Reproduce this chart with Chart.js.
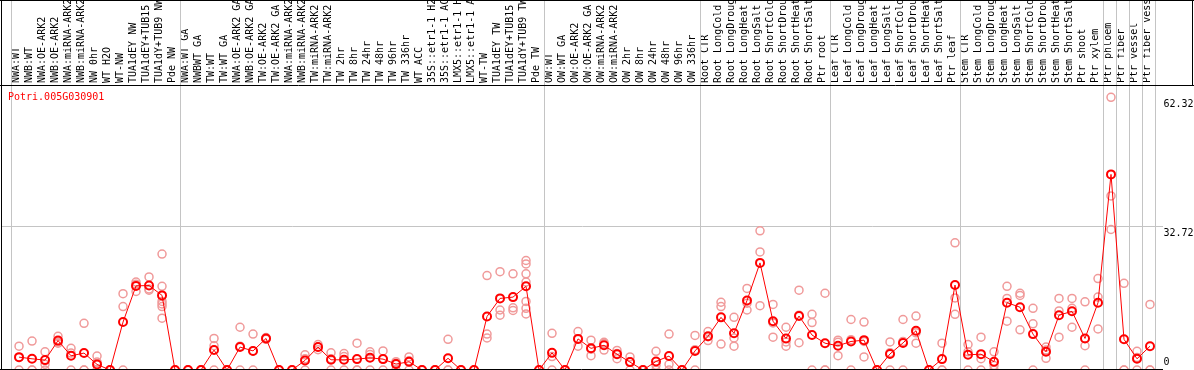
<!DOCTYPE html>
<html>
<head>
<meta charset="utf-8">
<script src="https://cdn.jsdelivr.net/npm/chart.js@4/dist/chart.umd.min.js"></script>
<style>
  html, body { margin: 0; padding: 0; background: #fff; }
  canvas { display: block; }
</style>
</head>
<body>
<canvas id="expr" width="1194" height="370"></canvas>
<script>
const geneId = 'Potri.005G030901';

const labels = [
  'NWA:WT', 'NWB:WT', 'NWA:OE-ARK2', 'NWB:OE-ARK2', 'NWA:miRNA-ARK2', 'NWB:miRNA-ARK2',
  'NW 0hr', 'WT H2O', 'WT-NW', 'TUA1dEY NW', 'TUA1dEY+TUB15 NW', 'TUA1dY+TUB9 NW', 'Pde NW',
  'NWA:WT GA', 'NWBWT GA', 'TW:WT', 'TW:WT GA', 'NWA:OE-ARK2 GA', 'NWB:OE-ARK2 GA',
  'TW:OE-ARK2', 'TW:OE-ARK2 GA', 'NWA:miRNA-ARK2', 'NWB:miRNA-ARK2', 'TW:miRNA-ARK2',
  'TW:miRNA-ARK2', 'TW 2hr', 'TW 8hr', 'TW 24hr', 'TW 48hr', 'TW 96hr', 'TW 336hr',
  'WT ACC', '35S::etr1-1 H2O', '35S::etr1-1 ACC', 'LMX5::etr1-1 H2O', 'LMX5::etr1-1 ACC',
  'WT-TW', 'TUA1dEY TW', 'TUA1dEY+TUB15 TW', 'TUA1dY+TUB9 TW', 'Pde TW',
  'OW:WT', 'OW:WT GA', 'OW:OE-ARK2', 'OW:OE-ARK2 GA', 'OW:miRNA-ARK2', 'OW:miRNA-ARK2',
  'OW 2hr', 'OW 8hr', 'OW 24hr', 'OW 48hr', 'OW 96hr', 'OW 336hr',
  'Root CTR', 'Root LongCold', 'Root LongDrought', 'Root LongHeat', 'Root LongSalt',
  'Root ShortCold', 'Root ShortDrought', 'Root ShortHeat', 'Root ShortSalt', 'Ptr root',
  'Leaf CTR', 'Leaf LongCold', 'Leaf LongDrought', 'Leaf LongHeat', 'Leaf LongSalt',
  'Leaf ShortCold', 'Leaf ShortDrought', 'Leaf ShortHeat', 'Leaf ShortSalt', 'Ptr leaf',
  'Stem CTR', 'Stem LongCold', 'Stem LongDrought', 'Stem LongHeat', 'Stem LongSalt',
  'Stem ShortCold', 'Stem ShortDrought', 'Stem ShortHeat', 'Stem ShortSalt', 'Ptr shoot',
  'Ptr xylem', 'Ptr phloem', 'Ptr fiber', 'Ptr vessel', 'Ptr fiber vessel',
];

// first sample index of each experiment block (last entry closes the final block)
const groupStarts = [0, 13, 41, 53, 63, 73, 84, 85, 86, 87, 88];

const means = [
  2.94, 2.56, 2.26, 6.72, 3.24, 3.87, 1.28, 0, 10.95, 19.22, 19.31, 17.05, 0,
  0, 0, 4.55, 0, 5.24, 4.36, 7.21, 0, 0, 2.19, 5.24, 2.33, 2.33, 2.49, 2.78, 2.49,
  1.35, 1.88, 0, 0, 2.68, 0, 0, 12.23, 16.36, 16.66, 19.12, 0,
  3.92, 0, 7.11, 4.95, 5.64, 3.62, 1.8, 0, 1.96, 3.18, 0, 4.36,
  7.7, 12.03, 8.39, 15.87, 24.48, 11.15, 7.21, 12.33, 8.0, 6.13,
  5.54, 6.52, 6.82, 0, 3.67, 6.19, 8.98, 0, 2.49, 19.41,
  3.47, 3.62, 1.9, 15.38, 14.35, 8.2, 4.16, 12.52, 13.41, 7.21, 15.38,
  44.7, 7.01, 2.56, 5.44,
];

const replicates = [
  [5.44, 2.88, 0], [6.62, 0, 0], [4.16, 1.31, 0], [7.7, 6.13, 6.42], [4.95, 3.87, 0],
  [10.66, 0, 0], [3.18, 1.8, 0], [0, 0, 0], [17.44, 14.49, 0], [20.1, 17.94, 19.61],
  [21.28, 18.23, 18.53], [26.5, 19.12, 15.67, 15.08, 14.49, 11.84], [0, 0, 0],
  [0, 0, 0], [0, 0, 0], [7.21, 5.54, 0], [0, 0, 0], [9.77, 5.44, 0], [8.2, 4.36, 0],
  [7.41, 7.21, 7.01], [0, 0, 0], [0, 0, 0], [3.47, 2.59, 0], [5.83, 5.24, 4.65],
  [3.92, 2.59, 0], [3.77, 3.08, 0], [6.13, 0, 0], [4.16, 3.57, 0], [4.36, 2.49, 0],
  [1.9, 1.6, 0], [2.98, 2.09, 0], [0, 0, 0], [0, 0, 0], [7.01, 0, 0], [0, 0, 0], [0, 0, 0],
  [21.58, 8.2, 7.31], [22.46, 13.71, 12.52], [21.97, 14.2, 13.61],
  [25.02, 24.23, 21.97, 20.1, 15.67, 14.1, 12.82], [0, 0, 0],
  [8.39, 3.08, 0], [0, 0, 0], [8.79, 7.11, 5.44], [6.82, 4.75, 3.28], [6.33, 6.03, 4.55],
  [4.46, 3.77, 2.59], [2.98, 1.9, 0], [0, 0, 0], [4.26, 1.11, 0], [8.2, 1.3, 0], [0, 0, 0],
  [7.9, 4.65, 0],
  [8.79, 7.6, 6.72], [15.48, 14.49, 5.93], [12.03, 7.31, 5.44], [18.63, 15.28, 13.71],
  [31.81, 26.99, 14.69], [14.98, 10.75, 7.51], [9.77, 6.42, 5.44], [18.23, 12.52, 6.23],
  [12.72, 10.85, 0], [17.54, 0, 0],
  [6.82, 6.33, 3.28], [11.54, 6.92, 0], [10.95, 6.52, 2.98], [0, 0, 0], [6.42, 3.96, 0],
  [11.54, 6.52, 0], [12.33, 8.49, 6.13], [0, 0, 0], [6.13, 0, 0], [29.06, 16.46, 12.72],
  [5.83, 4.16, 0], [7.51, 2.59, 0], [4.16, 1.01, 0], [19.12, 16.36, 11.15],
  [17.54, 17.05, 9.18], [14.1, 10.56, 0], [5.24, 4.55, 2.68], [16.36, 13.51, 7.51],
  [16.36, 14.1, 9.77], [15.57, 5.54, 0], [20.89, 16.66, 9.38],
  [62.32, 39.78, 32.11], [19.81, 0, 0], [4.26, 2.88, 0], [14.98, 0, 0],
];

const yTicks = [0, 32.72, 62.32];

const COLORS = {
  mean: '#ff0000',
  replicate: '#f09a9a',
  grid: '#c4c4c4',
  frame: '#000000',
};
const FONT = { family: '"DejaVu Sans Mono", "Liberation Mono", monospace', size: 10 };

const framePlugin = {
  id: 'frame',
  beforeDatasetsDraw(chart) {
    const { ctx, chartArea, scales } = chart;
    ctx.save();
    ctx.strokeStyle = COLORS.grid;
    ctx.lineWidth = 1;
    groupStarts.forEach((k) => {
      const px = Math.round(scales.x.getPixelForValue(k - 0.62)) + 0.5;
      ctx.beginPath();
      ctx.moveTo(px, 0);
      ctx.lineTo(px, chartArea.bottom);
      ctx.stroke();
    });
    ctx.restore();
  },
  afterDraw(chart) {
    const { ctx, chartArea, scales, width, height } = chart;
    const top = Math.round(chartArea.top) - 0.5;
    ctx.save();
    ctx.strokeStyle = COLORS.frame;
    ctx.lineWidth = 1;
    ctx.beginPath();
    ctx.moveTo(0, 0.5); ctx.lineTo(width, 0.5);
    ctx.moveTo(0, top); ctx.lineTo(width, top);
    ctx.moveTo(width - 1.5, 0); ctx.lineTo(width - 1.5, top);
    ctx.moveTo(1.5, 0); ctx.lineTo(1.5, height);
    ctx.moveTo(0, height - 0.5); ctx.lineTo(chartArea.right, height - 0.5);
    ctx.stroke();

    ctx.font = `${FONT.size}px ${FONT.family}`;
    ctx.fillStyle = COLORS.mean;
    ctx.textAlign = 'left';
    ctx.textBaseline = 'middle';
    ctx.fillText(geneId, 8, chartArea.top + 11);

    // value labels sit just under their level, kept inside the canvas
    ctx.fillStyle = COLORS.frame;
    ctx.textBaseline = 'top';
    yTicks.forEach((v) => {
      const py = Math.min(scales.y.getPixelForValue(v) + 2, height - 13);
      ctx.fillText(String(v), chartArea.right + 0.5, py);
    });
    ctx.restore();
  },
};

new Chart(document.getElementById('expr'), {
  type: 'line',
  data: {
    datasets: [
      {
        label: 'mean',
        data: means.map((v, i) => ({ x: i, y: v })),
        borderColor: COLORS.mean,
        borderWidth: 1,
        pointRadius: 4,
        pointBorderWidth: 2,
        pointBorderColor: COLORS.mean,
        pointBackgroundColor: 'rgba(0,0,0,0)',
        tension: 0,
        order: 0,
      },
      {
        type: 'scatter',
        label: 'replicates',
        data: replicates.flatMap((r, i) => r.map((v) => ({ x: i, y: v }))),
        showLine: false,
        pointRadius: 4,
        pointBorderWidth: 1.5,
        pointBorderColor: COLORS.replicate,
        pointBackgroundColor: 'rgba(0,0,0,0)',
        order: 1,
      },
    ],
  },
  options: {
    responsive: false,
    animation: false,
    events: [],
    // zero level sits a little below the image edge, as in the original
    layout: { autoPadding: false, padding: { top: 0, left: 2, right: 0, bottom: -2 } },
    plugins: { legend: { display: false }, tooltip: { enabled: false }, title: { display: false } },
    scales: {
      x: {
        type: 'linear',
        position: 'top',
        min: -1.31,
        max: 88,
        afterBuildTicks: (s) => { s.ticks = labels.map((_, i) => ({ value: i })); },
        afterFit: (s) => { s.height = 86; s.paddingLeft = 0; s.paddingRight = 0; },
        ticks: {
          autoSkip: false,
          minRotation: 90,
          maxRotation: 90,
          padding: 3,
          labelOffset: 9,
          color: '#000',
          font: FONT,
          callback: (v) => labels[Math.round(v)],
        },
        grid: { display: false, drawTicks: false },
        border: { display: false },
      },
      y: {
        type: 'linear',
        position: 'right',
        min: 0,
        max: 64.9,
        afterBuildTicks: (s) => { s.ticks = yTicks.map((v) => ({ value: v })); },
        afterFit: (s) => { s.width = 31; },
        ticks: { display: false },
        grid: {
          drawTicks: false,
          color: (c) => (c.tick && c.tick.value === yTicks[1] ? COLORS.grid : 'rgba(0,0,0,0)'),
        },
        border: { display: false },
      },
    },
  },
  plugins: [framePlugin],
});
</script>
</body>
</html>
